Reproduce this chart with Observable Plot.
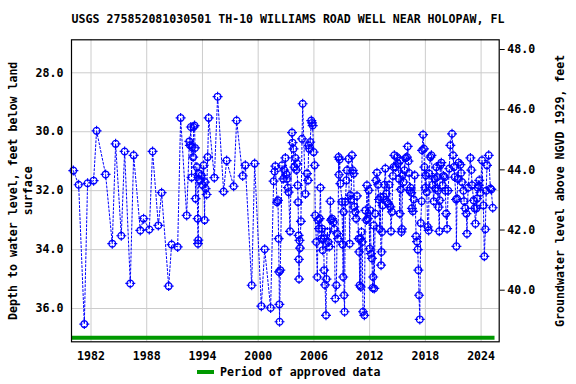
<!DOCTYPE html>
<html>
<head>
<meta charset="utf-8">
<script src="https://cdn.jsdelivr.net/npm/d3@7"></script>
<script src="https://cdn.jsdelivr.net/npm/@observablehq/plot@0.6"></script>
<style>
  html, body { margin: 0; padding: 0; background: white; }
  #wrap { width: 576px; height: 384px; position: relative; font-family: "DejaVu Sans Mono", monospace; font-weight: bold; color: black; }
  #title { height: 30px; font-size: 11.6px; line-height: 14px; box-sizing: border-box; text-align: center; padding-top: 12px; white-space: nowrap; }
  #legend { position: absolute; top: 364px; left: 0; width: 576px; height: 20px; font-size: 11.6px; }
  #legend .sw { position: absolute; left: 197px; top: 6px; width: 17px; height: 4px; background: #009900; }
  #legend .tx { position: absolute; left: 220px; top: 1px; white-space: nowrap; }
  svg { display: block; }
</style>
</head>
<body>
<div id="wrap">
  <div id="title">USGS 275852081030501 TH-10 WILLIAMS ROAD WELL NEAR HOLOPAW, FL</div>
  <div id="chart"></div>
  <div id="legend"><div class="sw"></div><div class="tx">Period of approved data</div></div>
</div>
<script>
// Measurement dates (decimal years) and depth to water (feet below land surface)
const dates = [
  1980.10,1980.67,1981.28,1981.63,1982.28,1982.60,1983.57,1984.29,1984.65,1985.26,
  1985.62,1986.23,1986.59,1987.31,1987.66,1988.28,1988.63,1989.25,1989.60,1990.36,
  1990.68,1991.33,1991.65,1992.30,1992.59,1992.65,1992.75,1992.83,1992.87,1993.00,
  1993.05,1993.15,1993.20,1993.26,1993.40,1993.48,1993.52,1993.55,1993.60,1993.74,
  1993.90,1994.00,1994.13,1994.23,1994.27,1994.34,1994.45,1994.56,1994.67,1995.28,
  1995.63,1996.28,1996.60,1997.36,1997.68,1998.33,1998.62,1999.30,1999.62,2000.34,
  2000.70,2001.34,2001.66,2001.77,2001.85,2002.03,2002.13,2002.20,2002.25,2002.28,
  2002.30,2002.38,2002.57,2002.70,2002.80,2002.93,2003.05,2003.10,2003.20,2003.28,
  2003.43,2003.64,2003.70,2003.80,2003.90,2004.00,2004.10,2004.18,2004.25,2004.30,
  2004.35,2004.38,2004.40,2004.45,2004.50,2004.60,2004.72,2004.79,2005.08,2005.26,
  2005.37,2005.43,2005.50,2005.60,2005.72,2005.80,2005.87,2005.97,2006.08,2006.15,
  2006.26,2006.37,2006.45,2006.55,2006.62,2006.70,2006.80,2006.87,2006.95,2007.05,
  2007.10,2007.20,2007.30,2007.35,2007.45,2007.55,2007.65,2007.77,2007.85,2007.95,
  2008.10,2008.20,2008.30,2008.42,2008.50,2008.60,2008.66,2008.70,2008.77,2008.85,
  2009.02,2009.10,2009.15,2009.20,2009.25,2009.30,2009.38,2009.50,2009.56,2009.74,
  2009.85,2009.92,2010.00,2010.10,2010.18,2010.28,2010.35,2010.46,2010.55,2010.64,
  2010.82,2010.88,2010.93,2011.00,2011.05,2011.12,2011.20,2011.29,2011.43,2011.54,
  2011.65,2011.71,2011.80,2011.90,2012.00,2012.07,2012.15,2012.25,2012.33,2012.38,
  2012.43,2012.50,2012.60,2012.70,2012.79,2012.90,2013.00,2013.08,2013.15,2013.23,
  2013.28,2013.33,2013.40,2013.50,2013.60,2013.69,2013.80,2013.87,2014.00,2014.10,
  2014.23,2014.30,2014.40,2014.50,2014.59,2014.66,2014.80,2014.95,2015.05,2015.15,
  2015.25,2015.30,2015.35,2015.42,2015.48,2015.55,2015.66,2015.75,2015.85,2016.02,
  2016.10,2016.18,2016.25,2016.32,2016.40,2016.48,2016.55,2016.65,2016.75,2016.85,
  2017.00,2017.10,2017.18,2017.25,2017.32,2017.40,2017.50,2017.60,2017.65,2017.75,
  2017.85,2017.90,2018.00,2018.05,2018.15,2018.25,2018.35,2018.40,2018.54,2018.65,
  2018.79,2018.90,2019.00,2019.08,2019.18,2019.26,2019.35,2019.43,2019.50,2019.55,
  2019.61,2019.72,2019.86,2019.95,2020.08,2020.15,2020.23,2020.34,2020.45,2020.58,
  2020.69,2020.87,2020.98,2021.08,2021.16,2021.30,2021.34,2021.41,2021.50,2021.59,
  2021.77,2021.85,2021.95,2022.10,2022.17,2022.30,2022.42,2022.48,2022.60,2022.85,
  2022.95,2023.03,2023.20,2023.30,2023.39,2023.50,2023.57,2023.65,2023.74,2023.80,
  2023.92,2024.10,2024.25,2024.35,2024.46,2024.55,2024.64,2024.82,2025.00,2025.10,
  2025.25
];
const depths = [
  31.32,31.80,36.53,31.75,31.66,29.97,31.45,33.80,30.41,33.53,
  30.67,35.15,30.80,33.35,32.95,33.32,30.67,33.18,32.07,35.24,
  33.83,33.91,29.53,32.84,30.33,30.46,29.84,31.55,30.52,30.86,
  29.84,29.79,30.55,32.27,31.20,32.95,33.80,33.68,31.42,31.65,
  31.48,31.80,31.14,33.00,31.71,31.93,32.13,30.86,29.53,31.56,
  28.81,32.03,30.98,31.85,29.62,31.50,31.14,35.21,31.08,35.92,
  33.99,35.98,31.68,31.35,31.17,32.39,32.33,33.63,34.76,35.86,
  36.45,34.70,31.14,31.60,31.30,30.89,31.45,31.60,31.90,32.05,
  33.38,30.03,30.37,30.58,31.20,30.89,31.30,31.08,31.82,32.39,
  33.52,34.33,35.00,33.69,33.95,33.04,30.24,29.05,32.11,31.42,
  31.65,30.46,30.58,30.35,29.62,29.70,29.79,30.69,31.14,32.84,
  33.74,34.93,33.00,33.29,32.95,31.90,33.63,33.29,34.02,33.63,
  34.70,35.20,36.23,35.00,33.40,33.74,33.90,32.36,33.00,32.95,
  33.07,33.30,35.66,35.21,33.46,33.63,30.86,31.46,30.94,31.76,
  32.38,33.83,34.93,32.72,35.55,36.11,32.38,31.65,31.31,30.92,
  33.80,32.16,32.30,30.80,31.31,31.42,32.55,32.72,32.95,32.18,
  33.63,34.08,35.21,33.63,35.27,33.40,33.74,36.11,36.23,32.67,
  33.00,31.82,32.95,31.99,33.97,32.67,34.14,34.30,35.30,34.93,
  33.18,35.32,32.78,31.65,31.39,31.80,32.30,33.30,32.22,34.53,
  34.08,33.40,32.50,32.20,31.80,31.25,32.10,32.38,32.44,31.80,
  32.55,33.38,32.72,31.50,31.20,30.80,31.20,30.86,31.08,31.60,
  32.78,30.97,31.96,33.40,33.30,31.48,31.71,31.31,30.90,30.86,
  30.50,31.00,31.40,32.00,31.90,32.07,32.60,32.70,32.30,31.48,
  33.55,33.73,34.00,34.70,35.55,36.37,33.10,32.36,30.63,30.10,
  30.58,31.20,31.90,31.48,32.05,33.23,33.35,31.42,30.86,30.80,
  31.80,32.36,31.60,31.93,31.20,31.54,32.00,32.56,33.38,32.33,
  31.14,31.05,31.82,31.50,31.54,32.00,32.78,33.29,32.00,31.25,
  30.46,30.07,30.80,31.20,31.54,32.30,33.89,32.27,31.60,31.05,
  31.12,31.40,31.71,32.00,32.36,32.60,32.78,33.46,31.90,30.89,
  31.30,31.82,32.33,32.60,33.12,32.60,32.27,31.90,31.82,31.65,
  32.07,30.97,32.50,34.23,33.31,32.00,31.14,30.80,31.93,31.96,
  32.58
];
const yearTicks = [1982, 1988, 1994, 2000, 2006, 2012, 2018, 2024];
const depthTicks = [28, 30, 32, 34, 36];
const elevTicks = [40, 42, 44, 46, 48];
const approvedPeriods = [{start: 1979.9, end: 2025.5}];
const titleText = "USGS 275852081030501 TH-10 WILLIAMS ROAD WELL NEAR HOLOPAW, FL";
const leftLabel = "Depth to water level, feet below land\nsurface";
const rightLabel = "Groundwater level above NGVD 1929, feet";

// Relation between depth axis and elevation axis
const depthAt48 = 27.21, feetPerFoot = 1.021;
const depthOf = e => depthAt48 + (48 - e) * feetPerFoot;
const elevOf = d => 48 - (d - depthAt48) / feetPerFoot;

const yDomain = [26.88, 37.13];
const data = dates.map((t, i) => ({t, d: depths[i]}));

const circleTick = {
  draw(ctx, size) {
    const r = Math.sqrt(size / Math.PI);
    ctx.moveTo(r, 0);
    ctx.arc(0, 0, r, 0, 2 * Math.PI);
    const a = 1.6;
    ctx.moveTo(0, -r - a); ctx.lineTo(0, -r + a);
    ctx.moveTo(0, r - a); ctx.lineTo(0, r + a);
    ctx.moveTo(-r - a, 0); ctx.lineTo(-r + a, 0);
    ctx.moveTo(r - a, 0); ctx.lineTo(r + a, 0);
  }
};

document.getElementById("title").textContent = titleText;

const chart = Plot.plot({
  width: 576,
  height: 334,
  marginTop: 9.3,
  marginLeft: 71,
  marginRight: 77.3,
  marginBottom: 22.7,
  style: {fontFamily: "DejaVu Sans Mono", fontSize: "11.6px", fontWeight: "bold", background: "white", color: "black", overflow: "visible"},
  x: {domain: [1979.9, 2025.95]},
  y: {domain: yDomain, reverse: true},
  marks: [
    Plot.gridX(yearTicks, {stroke: "#cccccc", strokeOpacity: 1, strokeWidth: 1}),
    Plot.gridY(depthTicks, {stroke: "#cccccc", strokeOpacity: 1, strokeWidth: 1}),
    Plot.ruleY(approvedPeriods, {y: () => yDomain[1], x1: "start", x2: "end", stroke: "#009900", strokeWidth: 4, dy: -4}),
    Plot.line(data, {x: "t", y: "d", stroke: "#0000ff", strokeWidth: 1, strokeDasharray: "2,2"}),
    Plot.dot(data, {x: "t", y: "d", r: 3.4, symbol: circleTick, stroke: "#0000ff", strokeWidth: 1.2, fill: "none"}),
    Plot.axisX(yearTicks, {tickSize: 0, tickPadding: 10, tickFormat: d => String(d), label: null}),
    Plot.axisY(depthTicks, {anchor: "left", tickSize: 0, tickPadding: 8, tickFormat: d => d.toFixed(1), label: null}),
    Plot.axisY(elevTicks.map(depthOf), {anchor: "right", tickSize: 5, tickPadding: 3, tickFormat: d => elevOf(d).toFixed(1), label: null}),
    Plot.frame({stroke: "black", strokeWidth: 1.2}),
    Plot.text([leftLabel], {frameAnchor: "left", textAnchor: "middle", lineAnchor: "middle", rotate: -90, dx: -51.5, lineHeight: 1.3, fill: "black"}),
    Plot.text([rightLabel], {frameAnchor: "right", textAnchor: "middle", lineAnchor: "middle", rotate: -90, dx: 61.3, fill: "black"})
  ]
});
document.getElementById("chart").appendChild(chart);
</script>
</body>
</html>
